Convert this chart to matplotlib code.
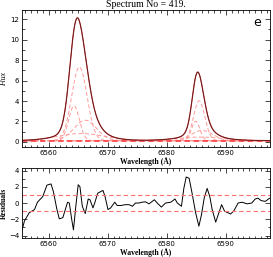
import numpy as np
import matplotlib
matplotlib.use("Agg")
import matplotlib.pyplot as plt
from matplotlib.ticker import MultipleLocator

# ---- Fit components: amplitude, centre [A], sigma [A]
comp_amp = [7.2, 3.4, 2.0, 0.7, 3.9, 1.9, 1.0, 0.35]
comp_cen = [6565.2, 6564.3, 6566.2, 6565.5, 6585.5, 6584.9, 6586.0, 6585.6]
comp_sig = [1.3, 0.9, 1.9, 4.0, 0.95, 0.7, 1.8, 4.0]
continuum = 0.12

# ---- Residuals
res_wave = [6555.5, 6555.9, 6556.7, 6557.6, 6558.1, 6559.0, 6559.7, 6560.4,
            6560.8, 6561.4, 6561.8, 6562.4, 6563.2, 6563.5, 6563.9, 6564.2,
            6564.6, 6565.0, 6565.3, 6565.7, 6566.2, 6566.7, 6567.0, 6567.5,
            6567.8, 6568.3, 6568.8, 6569.2, 6569.55, 6570.05, 6570.5, 6571.2,
            6571.6, 6572.3, 6573.0, 6573.6, 6574.2, 6574.7, 6575.3, 6575.8,
            6576.4, 6577.0, 6577.9, 6578.4, 6579.1, 6579.8, 6580.7, 6581.4,
            6581.8, 6582.5, 6582.9, 6583.3, 6583.8, 6584.3, 6584.9, 6585.45,
            6585.9, 6586.35, 6586.85, 6587.3, 6587.7, 6588.3, 6588.7, 6589.3,
            6589.8, 6590.4, 6590.8, 6591.35, 6592.1, 6592.75, 6593.6, 6594.4,
            6595.0, 6595.45, 6596.0, 6596.7, 6597.25, 6597.5]
res_val = [-3.3, -2.2, -1.2, -0.8, 0.1, 0.8, 2.2, 2.35,
           1.4, -0.8, -1.95, -1.8, 0.1, 0.0, -2.0, -3.3,
           -0.4, 2.25, 2.0, -0.4, -1.3, 0.5, 0.4, -0.6,
           0.0, 1.2, 1.4, 1.55, 0.8, -0.8, -0.6, 0.1,
           -0.3, -0.3, -0.2, -0.2, -0.4, 0.0, 0.0, 0.1,
           0.15, -0.1, 0.4, 0.0, -0.5, 0.0, 0.1, 0.5,
           0.0, -0.4, 1.8, 3.2, 3.05, 1.2, -1.2, -2.85,
           -1.4, 0.6, 1.8, 0.8, -0.8, -2.35, -1.5, -0.2,
           -1.0, -1.2, -1.35, -1.0, 0.0, 0.1, -0.1, 0.0,
           0.5, 0.6, 0.3, 0.2, 0.5, 0.6]

xlim = (6555.5, 6597.5)
wave = np.linspace(xlim[0], xlim[1], 600)

comps = [a*np.exp(-0.5*((wave - c)/s)**2)
         for a, c, s in zip(comp_amp, comp_cen, comp_sig)]
total = continuum + np.sum(comps, axis=0)

serif = "Liberation Serif"
fig = plt.figure(figsize=(2.73, 2.57), dpi=100)
ax1 = fig.add_axes([0.081, 0.428, 0.908, 0.533])
ax2 = fig.add_axes([0.081, 0.074, 0.908, 0.272])

# ---- Top panel: spectrum and components
for g in comps:
    ax1.plot(wave, continuum + g, color="#ff9a9a", lw=0.7, ls=(0, (4, 2.5)))
ax1.plot(wave, np.full_like(wave, continuum), color="#ff4a4a", lw=1.3,
         ls=(0, (3, 2)))
ax1.plot(wave, total, color="#e04040", lw=0.9)
ax1.plot(wave, total, color="#4a1818", lw=0.55)
ax1.set_xlim(*xlim)
ax1.set_ylim(-0.5, 12.9)
ax1.yaxis.set_major_locator(MultipleLocator(2))
ax1.yaxis.set_minor_locator(MultipleLocator(1))
ax1.set_ylabel("Flux", fontsize=5.5, family=serif, style="italic")
ax1.set_xlabel("Wavelength (Å)", fontsize=5.5, family=serif,
               fontweight="bold", labelpad=1)
ax1.set_title("Spectrum No = 419.", fontsize=7, family=serif, pad=2)
ax1.text(0.948, 0.912, "e", transform=ax1.transAxes, fontsize=9,
         ha="center", va="center")

# ---- Bottom panel: residuals
ax2.plot(res_wave, res_val, color="black", lw=0.7)
ax2.axhline(1, color="#ff7070", lw=0.8, ls=(0, (4, 2.5)))
ax2.axhline(-1, color="#ff7070", lw=0.8, ls=(0, (4, 2.5)))
ax2.set_xlim(*xlim)
ax2.set_ylim(-4.3, 4.3)
ax2.yaxis.set_major_locator(MultipleLocator(2))
ax2.yaxis.set_minor_locator(MultipleLocator(1))
ax2.set_ylabel("Residuals", fontsize=5.5, family=serif, fontweight="bold")
ax2.set_xlabel("Wavelength (Å)", fontsize=5.5, family=serif,
               fontweight="bold", labelpad=1)

ax1.yaxis.set_label_coords(-0.058, 0.5)
ax2.yaxis.set_label_coords(-0.058, 0.5)

for ax in (ax1, ax2):
    ax.xaxis.set_major_locator(MultipleLocator(10))
    ax.xaxis.set_minor_locator(MultipleLocator(1))
    ax.tick_params(which="both", direction="in", top=True, right=True,
                   labelsize=5, pad=2, width=0.5)
    ax.tick_params(which="major", length=3.5)
    ax.tick_params(which="minor", length=1.8)
    for sp in ax.spines.values():
        sp.set_linewidth(0.6)

fig.savefig("out.png", dpi=100)
